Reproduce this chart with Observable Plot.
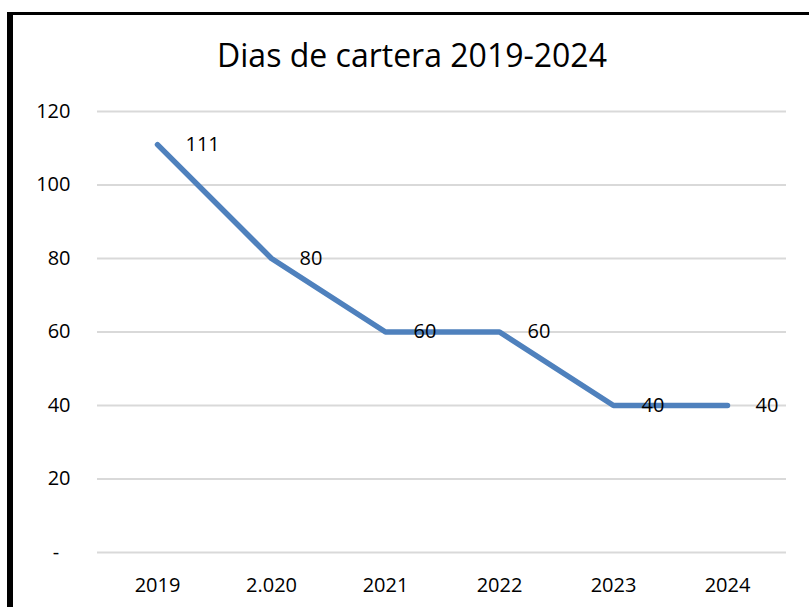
<!DOCTYPE html>
<html>
<head>
<meta charset="utf-8">
<script src="https://cdn.jsdelivr.net/npm/d3@7"></script>
<script src="https://cdn.jsdelivr.net/npm/@observablehq/plot@0.6"></script>
<style>
  html, body { margin: 0; padding: 0; overflow: hidden; background: white; width: 809px; height: 607px; }
  #frame {
    position: absolute; left: 7px; top: 12px;
    border-left: 6px solid #000; border-top: 3px solid #000;
    width: 796px; height: 640px; background: white;
  }
  #title {
    font-family: "Open Sans", sans-serif; font-size: 32px; line-height: 40px;
    height: 40px; padding-top: 20px; text-align: center; color: #000;
    padding-left: 2px;
  }
  #chart svg { display: block; }
</style>
</head>
<body>
<div id="frame">
  <div id="title">Dias de cartera 2019-2024</div>
  <div id="chart"></div>
</div>
<script>
const categories = ["2019", "2.020", "2021", "2022", "2023", "2024"];
const values = [111, 80, 60, 60, 40, 40];
const yTicks = [0, 20, 40, 60, 80, 100, 120];

const data = categories.map((c, i) => ({cat: c, value: values[i]}));

const chart = Plot.plot({
  width: 796,
  height: 532,
  marginTop: 36,
  marginBottom: 55,
  marginLeft: 84,
  marginRight: 23,
  style: {fontFamily: "Open Sans, sans-serif", fontSize: "20px", color: "#000", background: "transparent"},
  x: {type: "point", domain: categories, padding: 0.5, label: null},
  y: {domain: [0, 120], label: null},
  marks: [
    Plot.ruleY(yTicks, {stroke: "#d9d9d9", strokeWidth: 2}),
    Plot.axisY({ticks: yTicks, tickSize: 0, tickPadding: 27, tickFormat: d => d === 0 ? "-\u2007" : String(d), fontSize: 20, label: null}),
    Plot.axisX({tickSize: 0, tickPadding: 25, fontSize: 20, label: null}),
    Plot.line(data, {x: "cat", y: "value", stroke: "#4f81bd", strokeWidth: 5.5, strokeLinecap: "round", strokeLinejoin: "round"}),
    Plot.text(data, {x: "cat", y: "value", text: d => String(d.value), dx: 28, textAnchor: "start", fontSize: 20, fill: "#000"})
  ]
});
document.getElementById("chart").appendChild(chart);
</script>
</body>
</html>
